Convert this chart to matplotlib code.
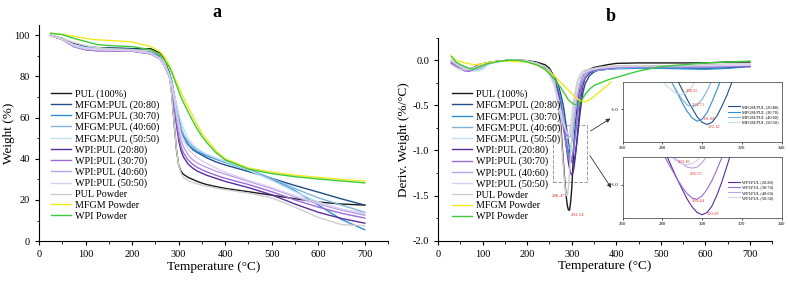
import matplotlib
matplotlib.use('Agg')
import matplotlib.pyplot as plt
from matplotlib.ticker import AutoMinorLocator, MultipleLocator, FormatStrFormatter
from matplotlib.patches import Rectangle
import numpy as np

plt.rc('font', family='Liberation Serif', size=7.5)
plt.rc('axes', unicode_minus=False)

labels = ['PUL (100%)', 'MFGM:PUL (20:80)', 'MFGM:PUL (30:70)', 'MFGM:PUL (40:60)',
          'MFGM:PUL (50:50)', 'WPI:PUL (20:80)', 'WPI:PUL (30:70)', 'WPI:PUL (40:60)',
          'WPI:PUL (50:50)', 'PUL Powder', 'MFGM Powder', 'WPI Powder']
colors = ['#1a1a1a', '#1f4f86', '#2f8fd6', '#7db3dc', '#bfdff2', '#5a2ca0',
          '#9a6bd8', '#baa3e6', '#decdf3', '#cfcfcf', '#f2ea1d', '#3ccb3c']

# ---- TGA (panel a) ----
t_tga = [25, 50, 75, 100, 125, 150, 200, 240, 260, 270, 280, 285, 290, 295, 300,
         305, 310, 320, 330, 340, 350, 360, 380, 400, 450, 500, 550, 600, 650, 700]
w_pul = [100, 98.5, 96, 94.5, 94, 93.8, 93.5, 93.5, 91.5, 88, 81, 72, 58, 45, 37,
         34, 32.5, 31, 30, 29, 28.2, 27.5, 26.5, 25.6, 24, 22.3, 20.6, 19, 18, 17.5]
w_m20 = [100, 98, 95.5, 94.5, 94, 93.8, 93.5, 92.5, 90, 87, 82, 78, 72, 66, 60,
         55, 51.5, 47, 44.5, 43, 41.8, 40.5, 38.5, 37, 33.8, 30.5, 27, 23.8, 20.5, 17.5]
w_m30 = [100, 98, 95, 94, 93.5, 93.3, 93, 92, 89.5, 86.5, 81.5, 77, 71, 64.5, 59,
         54, 51, 47, 45, 43.5, 42.5, 41.5, 39.8, 38.3, 34.5, 30, 24.5, 17.5, 10.5, 5.5]
w_m40 = [100, 98, 95, 93.8, 93.3, 93, 92.8, 91.5, 89, 86, 81, 76.5, 70, 64, 59,
         55, 52, 48.5, 46, 44.5, 43.2, 42, 40.3, 38.8, 35, 30.5, 25.5, 21, 17.5, 14]
w_m50 = [100, 98, 95.5, 94, 93.5, 93.2, 93, 91.5, 89, 86, 81, 77, 72, 67, 62,
         58, 55, 50, 47, 45, 43.5, 42.3, 40.3, 38.7, 34.5, 29.5, 24, 19, 15.5, 13]
w_w20 = [100, 98, 94.5, 93, 92.5, 92.5, 92.3, 91, 88.5, 85, 80, 75, 67, 57, 49,
         44, 41, 37.5, 35.5, 34, 33, 32, 30.5, 29, 26, 22.5, 18, 14, 11, 8.7]
w_w30 = [100, 98, 94.5, 93, 92.6, 92.5, 92.3, 91, 88.5, 85, 80, 75.5, 68, 59, 51,
         46, 43, 39.5, 37.3, 35.8, 34.7, 33.7, 32, 30.5, 27.5, 24, 20, 16.5, 13.5, 11.2]
w_w40 = [100, 98, 94.5, 93.2, 92.8, 92.7, 92.5, 91.2, 88.5, 85, 80.5, 76, 69, 61, 54,
         49, 46, 42, 39.5, 38, 36.8, 35.8, 34, 32.5, 29, 25.5, 21.5, 18, 15, 12.5]
w_w50 = [100, 98, 95, 93.5, 93, 92.8, 92.5, 91.2, 88.5, 85, 80.5, 76.5, 70, 63, 57,
         52, 49, 45, 42.5, 40.5, 39, 37.8, 35.5, 33.5, 29.5, 26, 22, 18.5, 15.5, 13.5]
w_pulp = [100, 98.5, 96.5, 95, 94, 93.5, 93, 92.5, 90.5, 87, 80, 71, 58, 45, 37,
          33, 31, 29.5, 28.5, 27.8, 27.2, 26.7, 25.8, 25, 23.3, 21, 16.5, 11.5, 8, 7.5]
w_mp = [101, 100.5, 99.5, 98.5, 97.8, 97.5, 96.8, 94.5, 92, 89.5, 85.5, 83, 80, 77.5, 75,
        72.5, 70, 65.5, 61, 56.5, 52.5, 49.5, 44, 40, 35.5, 33.5, 32, 31, 30, 29.2]
w_wp = [101, 100.3, 98.5, 97, 95.5, 95, 94.5, 93, 90.5, 88, 84.5, 82, 79, 76, 73,
        70, 67.5, 63, 58.5, 54.5, 51, 48, 43, 39.5, 35, 32.8, 31.3, 30.2, 29.2, 28.3]
tga = [w_pul, w_m20, w_m30, w_m40, w_m50, w_w20, w_w30, w_w40, w_w50, w_pulp, w_mp, w_wp]

# ---- DTG (panel b) ----
t_dtg = [30, 40, 50, 60, 70, 80, 90, 100, 110, 120, 140, 160, 180, 200, 220, 240, 250,
         260, 270, 275,
         280, 282.5, 285, 287.5, 290, 292.5, 295, 297.5, 300, 302.5, 305, 307.5, 310, 312.5, 315,
         320, 325, 330, 340, 350, 360, 380, 400, 450, 500, 550, 600, 650, 700]
d_pul = [-0.02, -0.05, -0.07, -0.09, -0.1, -0.08, -0.05, -0.04, -0.03, -0.02, -0.01, 0.0,
         0.0, -0.005, -0.02, -0.05, -0.09, -0.18, -0.47, -0.7,
         -1.05, -1.22, -1.38, -1.51, -1.61, -1.66, -1.66, -1.57, -1.42, -1.18, -0.92, -0.74,
         -0.6, -0.48, -0.38,
         -0.25, -0.17, -0.13, -0.1, -0.08, -0.07, -0.05, -0.035, -0.03, -0.03, -0.03, -0.03,
         -0.02, -0.02]
d_m20 = [-0.03, -0.06, -0.08, -0.1, -0.11, -0.1, -0.07, -0.05, -0.03, -0.02, -0.01, 0.0,
         0.0, -0.01, -0.03, -0.07, -0.11, -0.17, -0.28, -0.37,
         -0.48, -0.55, -0.64, -0.73, -0.82, -0.91, -0.99, -1.07, -1.12, -1.14, -1.12, -1.06,
         -0.97, -0.87, -0.75,
         -0.53, -0.36, -0.26, -0.17, -0.13, -0.11, -0.1, -0.09, -0.085, -0.085, -0.09, -0.09,
         -0.085, -0.06]
d_m30 = [0.0, -0.04, -0.07, -0.09, -0.1, -0.09, -0.07, -0.05, -0.03, -0.02, -0.01, 0.0,
         0.0, -0.01, -0.03, -0.08, -0.12, -0.2, -0.33, -0.44,
         -0.58, -0.67, -0.76, -0.85, -0.94, -1.02, -1.08, -1.11, -1.09, -1.03, -0.93, -0.82,
         -0.7, -0.59, -0.48,
         -0.33, -0.24, -0.19, -0.14, -0.12, -0.11, -0.1, -0.095, -0.09, -0.09, -0.095, -0.1,
         -0.09, -0.07]
d_m40 = [-0.02, -0.05, -0.08, -0.1, -0.11, -0.11, -0.1, -0.08, -0.05, -0.03, -0.01, 0.0,
         0.0, -0.01, -0.03, -0.08, -0.13, -0.22, -0.37, -0.49,
         -0.6, -0.68, -0.76, -0.84, -0.91, -0.96, -0.98, -0.96, -0.91, -0.83, -0.73, -0.62,
         -0.51, -0.42, -0.34,
         -0.24, -0.19, -0.16, -0.13, -0.12, -0.11, -0.1, -0.09, -0.08, -0.08, -0.08, -0.08,
         -0.07, -0.06]
d_m50 = [0.0, -0.04, -0.07, -0.09, -0.11, -0.12, -0.12, -0.1, -0.06, -0.03, -0.01, 0.0,
         0.0, -0.01, -0.04, -0.1, -0.16, -0.27, -0.48, -0.62,
         -0.74, -0.79, -0.83, -0.86, -0.86, -0.84, -0.79, -0.71, -0.62, -0.52, -0.43, -0.35,
         -0.29, -0.24, -0.21,
         -0.17, -0.15, -0.14, -0.12, -0.11, -0.1, -0.09, -0.08, -0.07, -0.07, -0.07, -0.07,
         -0.06, -0.06]
d_w20 = [-0.03, -0.06, -0.09, -0.11, -0.12, -0.1, -0.07, -0.04, -0.03, -0.02, -0.01, 0.0,
         0.0, -0.01, -0.04, -0.1, -0.14, -0.2, -0.37, -0.5,
         -0.66, -0.75, -0.85, -0.95, -1.04, -1.13, -1.2, -1.25, -1.27, -1.25, -1.19, -1.09,
         -0.97, -0.83, -0.69,
         -0.43, -0.28, -0.2, -0.14, -0.11, -0.1, -0.09, -0.08, -0.07, -0.07, -0.07, -0.07,
         -0.07, -0.07]
d_w30 = [-0.04, -0.07, -0.1, -0.12, -0.12, -0.1, -0.07, -0.05, -0.03, -0.02, -0.01, 0.0,
         0.0, -0.01, -0.04, -0.1, -0.15, -0.23, -0.42, -0.56,
         -0.7, -0.79, -0.87, -0.95, -1.02, -1.08, -1.12, -1.13, -1.1, -1.04, -0.96, -0.86,
         -0.75, -0.63, -0.52,
         -0.34, -0.24, -0.19, -0.13, -0.11, -0.1, -0.09, -0.08, -0.07, -0.07, -0.07, -0.07,
         -0.065, -0.06]
d_w40 = [-0.02, -0.05, -0.08, -0.1, -0.11, -0.1, -0.08, -0.06, -0.04, -0.02, -0.01, 0.0,
         0.0, -0.01, -0.04, -0.1, -0.15, -0.24, -0.42, -0.53,
         -0.64, -0.69, -0.74, -0.78, -0.81, -0.84, -0.85, -0.84, -0.8, -0.74, -0.66, -0.57,
         -0.48, -0.4, -0.33,
         -0.24, -0.18, -0.15, -0.12, -0.1, -0.09, -0.08, -0.075, -0.07, -0.065, -0.065, -0.065,
         -0.06, -0.06]
d_w50 = [0.0, -0.04, -0.07, -0.09, -0.1, -0.1, -0.09, -0.07, -0.04, -0.02, -0.01, 0.0,
         0.0, -0.01, -0.04, -0.1, -0.16, -0.26, -0.45, -0.57,
         -0.68, -0.72, -0.76, -0.79, -0.81, -0.82, -0.81, -0.78, -0.72, -0.64, -0.55, -0.46,
         -0.38, -0.31, -0.26,
         -0.19, -0.15, -0.13, -0.11, -0.1, -0.09, -0.08, -0.07, -0.065, -0.06, -0.06, -0.06,
         -0.06, -0.055]
d_pulp = [-0.05, -0.08, -0.1, -0.11, -0.1, -0.08, -0.06, -0.04, -0.03, -0.02, -0.01, 0.0,
          0.0, -0.01, -0.03, -0.07, -0.11, -0.2, -0.5, -0.78,
          -1.1, -1.27, -1.41, -1.5, -1.5, -1.41, -1.25, -1.05, -0.85, -0.66, -0.5, -0.38,
          -0.3, -0.24, -0.2,
          -0.15, -0.12, -0.11, -0.1, -0.09, -0.08, -0.07, -0.06, -0.06, -0.06, -0.06, -0.05,
          -0.04, -0.04]
d_wp = [0.04, -0.02, -0.05, -0.07, -0.09, -0.1, -0.08, -0.06, -0.04, -0.03, -0.01, 0.0,
        0.0, -0.02, -0.05, -0.1, -0.15, -0.2, -0.27, -0.3,
        -0.34, -0.36, -0.38, -0.4, -0.42, -0.44, -0.45, -0.46, -0.47, -0.48, -0.49, -0.49,
        -0.49, -0.49, -0.48,
        -0.46, -0.42, -0.38, -0.32, -0.28, -0.26, -0.22, -0.19, -0.12, -0.07, -0.05, -0.03,
        -0.02, -0.01]
# MFGM powder run stops near 388 C
t_mp = [28, 40, 60, 80, 100, 120, 150, 200, 230, 250, 260, 270, 280, 290, 300, 310,
        320, 330, 340, 350, 360, 370, 380, 388]
d_mp = [0.05, 0.0, -0.03, -0.05, -0.04, -0.02, -0.01, -0.02, -0.07, -0.13, -0.17, -0.22,
        -0.27, -0.32, -0.37, -0.42, -0.45, -0.46, -0.44, -0.4, -0.36, -0.32, -0.28, -0.24]
dtg = [d_pul, d_m20, d_m30, d_m40, d_m50, d_w20, d_w30, d_w40, d_w50, d_pulp, None, d_wp]

# peak temperatures written in the insets
pk_mfgm = ['288.55', '293.73', '301.02', '302.12']
pk_mfgm_xy = [(291.7, -0.835), (295.0, -0.96), (300.1, -1.09), (302.6, -1.16)]
pk_wpi = ['293.16', '295.57', '299.44', '300.33']
pk_wpi_xy = [(287.7, -0.79), (293.7, -0.90), (294.6, -1.15), (302.3, -1.26)]
pk_main = ['288.47', '293.14']
pk_main_xy = [(256, -1.5), (298, -1.72)]

red = '#e0302c'


def style(ax):
    ax.spines['top'].set_visible(False)
    ax.spines['right'].set_visible(False)
    ax.xaxis.set_minor_locator(AutoMinorLocator(2))
    ax.yaxis.set_minor_locator(AutoMinorLocator(2))
    ax.tick_params(which='major', direction='out', length=3, width=0.8, labelsize=7.5)
    ax.tick_params(which='minor', direction='out', length=1.8, width=0.6)


fig = plt.figure(figsize=(7.88, 2.81), dpi=100)

# panel a
axa = fig.add_axes([0.0495, 0.142, 0.443, 0.769])
for i in range(len(labels)):
    axa.plot(t_tga, tga[i], color=colors[i], lw=1.0, label=labels[i])
axa.set_xlim(0, 750)
axa.set_ylim(0, 105)
axa.set_xticks(np.arange(0, 701, 100))
axa.yaxis.set_major_locator(MultipleLocator(20))
style(axa)
axa.set_xlabel('Temperature (\u00b0C)', fontsize=9.5, labelpad=1)
axa.set_ylabel('Weight (%)', fontsize=9.5, labelpad=0)
axa.legend(loc='upper left', bbox_to_anchor=(0.034, 0.704), frameon=False,
           fontsize=7.3, handlelength=2.0, handletextpad=0.4, labelspacing=0.16,
           borderpad=0, borderaxespad=0)
fig.text(0.275, 0.955, 'a', ha='center', va='center', fontsize=13, fontweight='bold')

# panel b
axb = fig.add_axes([0.556, 0.1434, 0.424, 0.7226])
for i in range(len(labels)):
    if labels[i] == 'MFGM Powder':
        axb.plot(t_mp, d_mp, color=colors[i], lw=1.0, label=labels[i])
    else:
        axb.plot(t_dtg, dtg[i], color=colors[i], lw=1.0, label=labels[i])
axb.set_xlim(0, 750)
axb.set_ylim(-2.0, 0.25)
axb.set_xticks(np.arange(0, 701, 100))
axb.set_yticks([0.0, -0.5, -1.0, -1.5, -2.0])
axb.yaxis.set_major_formatter(FormatStrFormatter('%.1f'))
style(axb)
axb.set_xlabel('Temperature (\u00b0C)', fontsize=9.5, labelpad=1)
axb.set_ylabel('Deriv. Weight (%/\u00b0C)', fontsize=9.5, labelpad=2)
axb.legend(loc='upper left', bbox_to_anchor=(0.041, 0.745), frameon=False,
           fontsize=7.3, handlelength=2.0, handletextpad=0.4, labelspacing=0.16,
           borderpad=0, borderaxespad=0)
axb.add_patch(Rectangle((257, -1.35), 77, 0.63, fill=False, ls='--', lw=0.7,
                        ec='#9a9a9a'))
for s, (x, y) in zip(pk_main, pk_main_xy):
    axb.text(x, y, s, color=red, fontsize=3.5, ha='left', va='center')
axb.annotate('', xy=(392, -0.63), xytext=(337, -0.8),
             arrowprops=dict(arrowstyle='-|>', color='#333333', lw=0.6,
                             mutation_scale=6))
axb.annotate('', xy=(392, -1.44), xytext=(337, -1.03),
             arrowprops=dict(arrowstyle='-|>', color='#333333', lw=0.6,
                             mutation_scale=6))
fig.text(0.775, 0.94, 'b', ha='center', va='center', fontsize=13, fontweight='bold')

# insets
ins_specs = [([0.790, 0.495, 0.202, 0.213], [1, 2, 3, 4], pk_mfgm, pk_mfgm_xy),
             ([0.790, 0.224, 0.202, 0.217], [5, 6, 7, 8], pk_wpi, pk_wpi_xy)]
for rect, idx, pks, pxy in ins_specs:
    axi = fig.add_axes(rect)
    for i in idx:
        axi.plot(t_dtg, dtg[i], color=colors[i], lw=0.8, label=labels[i])
    axi.set_xlim(260, 340)
    axi.set_ylim(-1.3, -0.75)
    axi.set_xticks([260, 280, 300, 320, 340])
    axi.set_yticks([-1.0])
    axi.yaxis.set_major_formatter(FormatStrFormatter('%.1f'))
    axi.tick_params(labelsize=3.5, length=1.5, width=0.5, pad=1.5)
    for sp in axi.spines.values():
        sp.set_linewidth(0.6)
        sp.set_color('#555555')
    for s, (x, y) in zip(pks, pxy):
        axi.text(x, y, s, color=red, fontsize=3.3, ha='left', va='center')
    axi.legend(loc='upper left', bbox_to_anchor=(0.665, 0.62), frameon=False,
               fontsize=3.2, handlelength=2.6, handletextpad=0.4, labelspacing=0.25,
               borderpad=0, borderaxespad=0)

plt.savefig('out.png', dpi=100)
